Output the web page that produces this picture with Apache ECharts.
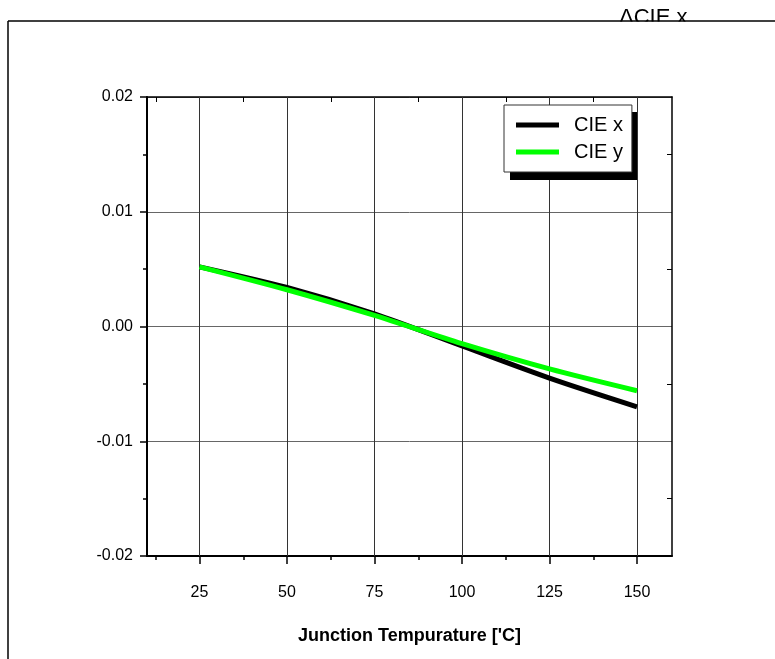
<!DOCTYPE html>
<html>
<head>
<meta charset="utf-8">
<script src="https://cdn.jsdelivr.net/npm/echarts@6/dist/echarts.min.js"></script>
<style>
  html, body { margin: 0; padding: 0; background: #fff; }
  #chart { width: 775px; height: 659px; }
</style>
</head>
<body>
<div id="chart"></div>
<script>
const temperatures = [25, 50, 75, 100, 125, 150];
const cieX = [0.0052, 0.0034, 0.0011, -0.0017, -0.0045, -0.0070];
const cieY = [0.0052, 0.0032, 0.00096, -0.0015, -0.0037, -0.0056];
const xMajorTicks = [25, 50, 75, 100, 125, 150];
const xMinorTicks = [12.5, 37.5, 62.5, 87.5, 112.5, 137.5];
const yMinorTicks = [0.015, 0.005, -0.005, -0.015];
const seriesNames = ['CIE x', 'CIE y'];
const titleText = 'ΔCIE x';
const xAxisTitle = "Junction Tempurature ['C]";

const FONT = '"Liberation Sans", Arial, sans-serif';

const chart = echarts.init(document.getElementById('chart'), null, { renderer: 'canvas' });

const toPairs = (ys) => temperatures.map((t, i) => [t, ys[i]]);

const option = {
  backgroundColor: '#fff',
  animation: false,
  textStyle: { fontFamily: FONT },
  grid: { left: 147, top: 97, right: 103, bottom: 103, show: false },
  legend: {
    orient: 'vertical',
    left: 504,
    top: 105,
    data: seriesNames,
    icon: 'rect',
    itemWidth: 43,
    itemHeight: 5,
    itemGap: 7,
    padding: [10, 9, 10, 12],
    backgroundColor: '#fff',
    borderColor: '#333',
    borderWidth: 1,
    borderRadius: 0,
    z: 5,
    textStyle: { fontFamily: FONT, fontSize: 20, color: '#000', padding: [0, 0, 0, 10] },
    selectedMode: false
  },
  xAxis: [
    {
      type: 'value', position: 'bottom', min: 10, max: 160,
      name: xAxisTitle, nameLocation: 'middle', nameGap: 71,
      nameTextStyle: { fontFamily: FONT, fontSize: 18, fontWeight: 'bold', color: '#000' },
      axisLine: { show: true, onZero: false, lineStyle: { color: '#000', width: 2 } },
      axisTick: { show: true, customValues: xMajorTicks, length: 8, lineStyle: { color: '#000', width: 1.5 } },
      axisLabel: { show: true, customValues: xMajorTicks, margin: 29, fontFamily: FONT, fontSize: 16, color: '#000',
        formatter: (v) => String(Math.round(v)) },
      splitLine: { show: false }
    },
    {
      type: 'value', position: 'bottom', min: 10, max: 160,
      axisLine: { show: false, onZero: false },
      axisTick: { show: true, customValues: xMinorTicks, length: 4, lineStyle: { color: '#000', width: 1.5 } },
      axisLabel: { show: false },
      splitLine: { show: false }
    },
    {
      type: 'value', position: 'top', min: 10, max: 160,
      axisLine: { show: true, onZero: false, lineStyle: { color: '#000', width: 1.5 } },
      axisTick: { show: true, inside: true, customValues: xMinorTicks, length: 5, lineStyle: { color: '#000', width: 1 } },
      axisLabel: { show: false },
      splitLine: { show: false }
    }
  ],
  yAxis: [
    {
      type: 'value', position: 'left', min: -0.02, max: 0.02, interval: 0.01,
      axisLine: { show: true, onZero: false, lineStyle: { color: '#000', width: 2 } },
      axisTick: { show: true, length: 7, lineStyle: { color: '#000', width: 1.5 } },
      minorTick: { show: true, splitNumber: 2, length: 4, lineStyle: { color: '#000', width: 1.5 } },
      axisLabel: { show: true, margin: 14, fontFamily: FONT, fontSize: 16, color: '#000',
        formatter: (v) => v.toFixed(2) },
      splitLine: { show: true, lineStyle: { color: '#666', width: 1 } }
    },
    {
      type: 'value', position: 'right', min: -0.02, max: 0.02,
      axisLine: { show: true, onZero: false, lineStyle: { color: '#000', width: 1.5 } },
      axisTick: { show: true, inside: true, customValues: yMinorTicks, length: 5, lineStyle: { color: '#000', width: 1 } },
      axisLabel: { show: false },
      splitLine: { show: false }
    }
  ],
  series: [
    {
      name: seriesNames[0], type: 'line', xAxisIndex: 0, yAxisIndex: 0,
      data: toPairs(cieX), smooth: 0.3, showSymbol: false, symbol: 'none',
      lineStyle: { color: '#000', width: 5 }, itemStyle: { color: '#000' }, z: 3,
      markLine: {
        silent: true, symbol: 'none', z: 1,
        label: { show: false },
        lineStyle: { color: '#333', width: 1, type: 'solid' },
        data: xMajorTicks.map(v => ({ xAxis: v }))
      }
    },
    {
      name: seriesNames[1], type: 'line', xAxisIndex: 0, yAxisIndex: 0,
      data: toPairs(cieY), smooth: 0.3, showSymbol: false, symbol: 'none',
      lineStyle: { color: '#00ff00', width: 5 }, itemStyle: { color: '#00ff00' }, z: 4
    }
  ],
  graphic: [
    { type: 'text', left: 619, top: 7, z: 1,
      style: { text: titleText, font: '22px ' + FONT, fill: '#000' } },
    { type: 'rect', shape: { x: 600, y: 21.5, width: 120, height: 22 }, z: 2,
      style: { fill: '#fff' } },
    { type: 'line', shape: { x1: 8, y1: 21, x2: 775, y2: 21 }, z: 3,
      style: { stroke: '#000', lineWidth: 1.5 } },
    { type: 'line', shape: { x1: 8, y1: 21, x2: 8, y2: 659 }, z: 3,
      style: { stroke: '#000', lineWidth: 1.5 } },
    { type: 'rect', shape: { x: 510, y: 112, width: 127, height: 68 }, z: 3,
      style: { fill: '#000' } }
  ]
};

chart.setOption(option);
</script>
</body>
</html>
